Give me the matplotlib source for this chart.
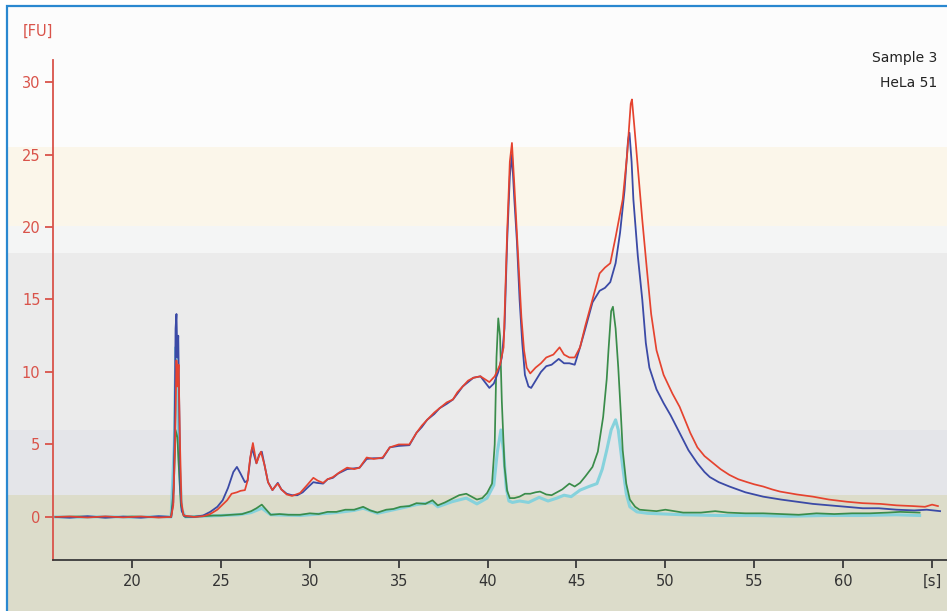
import numpy as np
import matplotlib
matplotlib.use("Agg")
import matplotlib.pyplot as plt
from matplotlib.patches import Rectangle

# time [s] / fluorescence [FU]
blue_x = [15.7, 16.5, 17.5, 18.5, 19.5, 20.5, 21.5, 22.2, 22.32, 22.4, 22.45, 22.5, 22.55, 22.6, 22.65, 22.72,
          22.8, 22.95, 23.5, 24.0, 24.4, 24.8, 25.1, 25.4, 25.7, 25.9, 26.1, 26.35, 26.5, 26.65, 26.75, 26.88,
          27.0, 27.15, 27.3, 27.45, 27.65, 27.9, 28.05, 28.2, 28.4, 28.7, 29.0, 29.3, 29.6, 29.85, 30.2, 30.4,
          30.75, 31.0, 31.3, 31.6, 32.1, 32.5, 32.8, 33.2, 33.6, 34.1, 34.5, 35.0, 35.6, 36.0, 36.3, 36.6,
          37.0, 37.3, 37.7, 38.05, 38.3, 38.6, 38.9, 39.2, 39.6, 39.85, 40.1, 40.35, 40.6, 40.8, 40.95, 41.1,
          41.25, 41.37, 41.5, 41.65, 41.8, 41.95, 42.1, 42.3, 42.45, 42.7, 43.0, 43.3, 43.6, 44.0, 44.3, 44.6,
          44.9, 45.2, 45.5, 45.9, 46.3, 46.6, 46.9, 47.2, 47.45, 47.7, 47.9, 47.98, 48.1, 48.2, 48.45, 48.7,
          48.9, 49.1, 49.5, 49.9, 50.3, 50.8, 51.3, 51.8, 52.2, 52.5, 53.0, 53.6, 54.5, 55.5, 56.5, 57.4,
          58.3, 59.25, 60.2, 61.1, 62.0, 63.0, 64.0, 64.7, 65.45]
blue_y = [0.0, -0.05, 0.05, -0.05, 0.02, -0.05, 0.05, 0.0, 1.0, 6.0, 13.0, 14.0, 11.0, 12.5, 8.0, 2.0,
          0.4, 0.05, 0.0, 0.1, 0.35, 0.7, 1.15, 2.0, 3.1, 3.45, 3.0, 2.4, 2.5, 4.0, 4.75, 4.2,
          3.7, 4.3, 4.5, 3.6, 2.4, 1.85, 2.1, 2.35, 1.9, 1.6, 1.5, 1.5, 1.7, 2.0, 2.4, 2.35,
          2.3, 2.6, 2.7, 3.0, 3.3, 3.35, 3.4, 4.0, 4.05, 4.05, 4.8, 4.9, 4.95, 5.8, 6.2, 6.7,
          7.1, 7.5, 7.8, 8.1, 8.5, 9.0, 9.3, 9.6, 9.7, 9.3, 8.9, 9.2, 10.0, 11.0, 13.0, 19.0,
          23.5, 25.0, 22.0, 19.0, 15.0, 12.0, 9.8, 9.0, 8.9, 9.4, 10.0, 10.4, 10.5, 10.9, 10.6, 10.6,
          10.5, 11.7, 13.0, 14.8, 15.6, 15.8, 16.2, 17.5, 19.6, 22.5, 26.0, 26.5, 24.5, 21.9, 18.0, 15.0,
          12.0, 10.3, 8.8, 7.85, 7.0, 5.8, 4.6, 3.7, 3.1, 2.75, 2.4, 2.1, 1.7, 1.4, 1.2, 1.05,
          0.9, 0.8, 0.7, 0.6, 0.6, 0.5, 0.45, 0.5, 0.4]

red_x = [15.7, 16.5, 17.5, 18.5, 19.5, 20.5, 21.5, 22.2, 22.32, 22.42, 22.5, 22.56, 22.62, 22.7, 22.78, 22.9,
         23.5, 24.0, 24.4, 24.8, 25.35, 25.6, 25.9, 26.1, 26.35, 26.5, 26.65, 26.8, 26.9, 27.0, 27.15, 27.25,
         27.45, 27.65, 27.9, 28.05, 28.2, 28.4, 28.7, 29.0, 29.45, 29.85, 30.2, 30.45, 30.75, 31.0, 31.3, 31.7,
         32.1, 32.5, 32.8, 33.2, 33.6, 34.1, 34.5, 35.0, 35.6, 36.0, 36.3, 36.6, 37.0, 37.3, 37.7, 38.05,
         38.3, 38.6, 38.9, 39.2, 39.6, 39.85, 40.1, 40.4, 40.7, 40.9, 41.1, 41.25, 41.37, 41.5, 41.65, 41.9,
         42.05, 42.2, 42.4, 42.7, 43.0, 43.3, 43.7, 44.05, 44.3, 44.6, 44.9, 45.2, 45.5, 45.9, 46.3, 46.6,
         46.9, 47.2, 47.6, 47.85, 48.05, 48.12, 48.25, 48.45, 48.7, 48.95, 49.2, 49.5, 49.9, 50.4, 50.8, 51.4,
         51.8, 52.2, 52.7, 53.1, 53.6, 54.1, 54.6, 55.0, 55.5, 56.0, 56.45, 57.4, 58.3, 59.2, 60.2, 61.1,
         62.1, 63.0, 63.9, 64.6, 65.0, 65.33]
red_y = [0.0, 0.03, -0.04, 0.04, -0.03, 0.03, -0.04, 0.0, 0.8, 5.0, 10.8, 9.0, 10.5, 5.0, 1.0, 0.1,
         0.0, 0.05, 0.2, 0.5, 1.15, 1.6, 1.7, 1.8, 1.85, 2.5, 4.1, 5.1, 4.4, 3.7, 4.2, 4.5,
         3.6, 2.4, 1.85, 2.1, 2.3, 1.9, 1.55, 1.45, 1.65, 2.2, 2.7, 2.5, 2.35, 2.6, 2.75, 3.1,
         3.4, 3.3, 3.4, 4.1, 4.0, 4.1, 4.8, 5.0, 5.0, 5.8, 6.3, 6.7, 7.2, 7.5, 7.9, 8.1,
         8.6, 9.0, 9.4, 9.6, 9.7, 9.5, 9.3, 9.7, 10.5, 11.7, 19.6, 24.5, 25.8, 23.0, 19.6, 13.8,
         11.5, 10.3, 9.9, 10.3, 10.6, 11.0, 11.2, 11.7, 11.2, 11.0, 11.0, 11.7, 13.2, 15.0, 16.8, 17.2,
         17.5, 19.3, 21.9, 25.0, 28.5, 28.8, 27.0, 24.1, 20.5, 17.2, 14.0, 11.5, 9.8, 8.5, 7.6, 5.8,
         4.8, 4.2, 3.7, 3.3, 2.9, 2.6, 2.4, 2.25, 2.1, 1.9, 1.75, 1.55, 1.4, 1.2, 1.05, 0.95,
         0.9, 0.8, 0.75, 0.7, 0.85, 0.75]

green_x = [15.7, 17.0, 18.5, 20.0, 21.5, 22.2, 22.35, 22.45, 22.55, 22.65, 22.75, 22.9, 23.0, 24.0, 24.6, 25.0,
           25.6, 26.2, 26.7, 27.0, 27.3, 27.55, 27.8, 28.3, 28.8, 29.45, 30.0, 30.5, 31.0, 31.5, 32.0, 32.5,
           33.0, 33.4, 33.8, 34.3, 34.7, 35.1, 35.6, 36.0, 36.5, 36.9, 37.2, 37.6, 38.0, 38.4, 38.8, 39.1,
           39.4, 39.7, 39.97, 40.25, 40.4, 40.5, 40.6, 40.7, 40.8, 40.95, 41.1, 41.25, 41.5, 41.8, 42.1, 42.4,
           42.7, 42.95, 43.3, 43.6, 43.9, 44.2, 44.6, 44.9, 45.2, 45.5, 45.9, 46.2, 46.5, 46.7, 46.8, 46.95,
           47.05, 47.2, 47.35, 47.5, 47.6, 47.8, 48.0, 48.3, 48.55, 49.0, 49.5, 50.0, 50.5, 51.0, 52.0, 52.8,
           53.5, 54.5, 55.5, 56.5, 57.5, 58.5, 59.5, 60.5, 61.5, 62.5, 63.2, 64.3]
green_y = [0.0, 0.03, -0.03, 0.03, -0.02, 0.0, 2.0, 6.0, 5.5, 3.0, 0.8, 0.1, 0.0, 0.05, 0.1, 0.1,
           0.15, 0.2, 0.4, 0.6, 0.85, 0.5, 0.15, 0.2, 0.15, 0.15, 0.25, 0.2, 0.35, 0.35, 0.5, 0.5,
           0.7, 0.45, 0.3, 0.5, 0.55, 0.7, 0.75, 0.95, 0.9, 1.15, 0.8, 1.0, 1.25, 1.5, 1.6, 1.4,
           1.2, 1.3, 1.65, 2.3, 5.0, 11.0, 13.7, 12.5, 8.0, 3.5, 1.8, 1.3, 1.3, 1.4, 1.6, 1.6,
           1.7, 1.75, 1.55, 1.5, 1.7, 1.9, 2.3, 2.1, 2.35, 2.8, 3.45, 4.5, 6.9, 9.5, 11.5, 14.2,
           14.5, 13.0, 10.3, 7.0, 4.6, 2.3, 1.2, 0.7, 0.5, 0.45, 0.4, 0.5, 0.4, 0.3, 0.3, 0.4,
           0.3, 0.25, 0.25, 0.2, 0.15, 0.25, 0.2, 0.25, 0.25, 0.3, 0.35, 0.3]

cyan_x = [15.7, 17.0, 18.5, 20.0, 21.5, 22.2, 22.38, 22.47, 22.55, 22.65, 22.8, 23.0, 24.0, 25.0, 26.0, 26.7,
          27.3, 27.8, 29.45, 30.5, 31.5, 32.5, 33.0, 33.8, 35.1, 36.0, 36.9, 37.2, 38.0, 38.8, 39.4, 39.97,
          40.35, 40.55, 40.75, 40.9, 41.05, 41.2, 41.4, 41.8, 42.3, 42.9, 43.4, 43.9, 44.3, 44.7, 45.2, 45.7,
          46.15, 46.45, 46.7, 46.95, 47.2, 47.35, 47.6, 47.8, 48.0, 48.4, 49.0, 50.0, 51.0, 53.0, 55.0, 57.0,
          59.0, 61.0, 63.0, 64.3]
cyan_y = [0.0, -0.02, 0.02, -0.02, 0.02, 0.0, 5.0, 11.7, 9.0, 4.0, 0.5, 0.0, 0.05, 0.1, 0.15, 0.3,
          0.6, 0.15, 0.1, 0.2, 0.3, 0.45, 0.6, 0.25, 0.6, 0.85, 1.0, 0.7, 1.05, 1.3, 0.9, 1.3,
          2.2, 4.5, 6.0, 4.5, 2.0, 1.1, 1.0, 1.1, 1.0, 1.35, 1.1, 1.3, 1.5, 1.4, 1.85, 2.1,
          2.3, 3.3, 4.6, 6.0, 6.7, 6.0, 3.45, 1.6, 0.7, 0.35, 0.25, 0.2, 0.15, 0.1, 0.1, 0.05,
          0.1, 0.1, 0.15, 0.1]

x_ticks = [20, 25, 30, 35, 40, 45, 50, 55, 60, 65]
x_labels = ["20", "25", "30", "35", "40", "45", "50", "55", "60", "[s]"]
y_ticks = [0, 5, 10, 15, 20, 25, 30]

# background bands (FU ranges)
bands = [(25.5, 35.3, "#fcfcfc"), (20.1, 25.5, "#fbf6ea"), (18.2, 20.1, "#f4f5f5"),
         (6.0, 18.2, "#ebebeb"), (1.5, 6.0, "#e4e5e9"), (-10, 1.5, "#dcdcca")]

axis_red = "#d9534a"
text_gray = "#333333"

fig = plt.figure(figsize=(9.47, 6.11), dpi=100)
fig.patch.set_facecolor("white")
ax = fig.add_axes([53 / 947, 51 / 611, 894 / 947, 500 / 611])
ax.set_facecolor("none")

for lo, hi, c in bands:
    ax.axhspan(lo, hi, xmin=-0.0515, xmax=1.1, color=c, lw=0, clip_on=False, zorder=0)

ax.plot(cyan_x, cyan_y, color="#86d2dc", lw=2.2, zorder=2)
ax.plot(green_x, green_y, color="#3a8c4a", lw=1.25, zorder=3)
ax.plot(blue_x, blue_y, color="#3b4aa6", lw=1.3, zorder=4)
ax.plot(red_x, red_y, color="#e5432f", lw=1.25, zorder=5)

ax.set_xlim(15.556, 65.84)
ax.set_ylim(-2.97, 31.52)

for s in ["top", "right"]:
    ax.spines[s].set_visible(False)
ax.spines["left"].set_color(axis_red)
ax.spines["left"].set_linewidth(1.3)
ax.spines["bottom"].set_color("#3a3a3a")
ax.spines["bottom"].set_linewidth(1.3)

ax.set_xticks(x_ticks)
ax.set_xticklabels(x_labels)
ax.set_yticks(y_ticks)
ax.tick_params(axis="x", colors="#3a3a3a", labelcolor=text_gray, length=6, width=1.3, labelsize=10.5, pad=4)
ax.tick_params(axis="y", colors=axis_red, labelcolor=axis_red, length=6, width=1.3, labelsize=10.5, pad=3)

fig.text(38 / 947, 1 - 31 / 611, "[FU]", color=axis_red, fontsize=10.5, ha="center", va="center")
fig.text(937 / 947, 1 - 58 / 611, "Sample 3", color="#222222", fontsize=10, ha="right", va="center")
fig.text(937 / 947, 1 - 83 / 611, "HeLa 51", color="#222222", fontsize=10, ha="right", va="center")

fig.add_artist(Rectangle((7 / 947, -0.2), 1.2, 1.2 - 6 / 611, transform=fig.transFigure,
                         fill=False, edgecolor="#2a88d0", lw=1.6, zorder=10))

fig.savefig("out.png", dpi=100)
